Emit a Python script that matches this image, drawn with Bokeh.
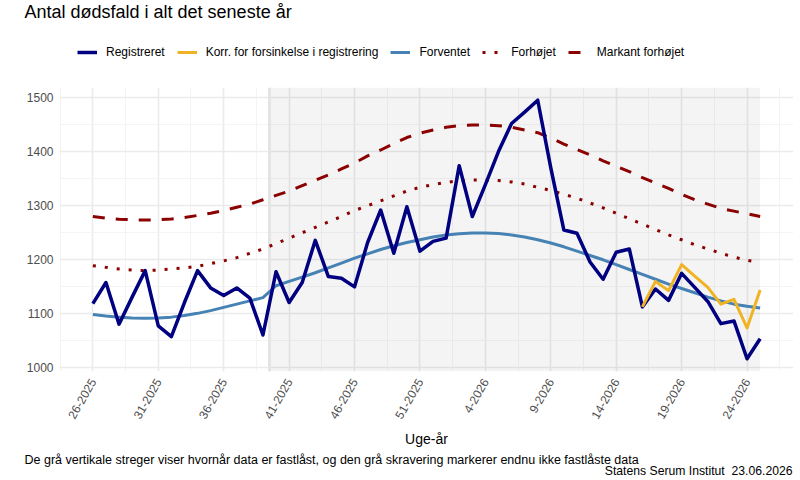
import math
from bokeh.plotting import figure
from bokeh.layouts import column
from bokeh.models import Range1d, FixedTicker, BoxAnnotation, Span, Legend, LegendItem
from bokeh.core.properties import value
from bokeh.embed import file_html
from bokeh.resources import INLINE

# ---------------- data ----------------
week_labels = [
    "26-2025", "27-2025", "28-2025", "29-2025", "30-2025", "31-2025", "32-2025", "33-2025",
    "34-2025", "35-2025", "36-2025", "37-2025", "38-2025", "39-2025", "40-2025", "41-2025",
    "42-2025", "43-2025", "44-2025", "45-2025", "46-2025", "47-2025", "48-2025", "49-2025",
    "50-2025", "51-2025", "52-2025", "1-2026", "2-2026", "3-2026", "4-2026", "5-2026",
    "6-2026", "7-2026", "8-2026", "9-2026", "10-2026", "11-2026", "12-2026", "13-2026",
    "14-2026", "15-2026", "16-2026", "17-2026", "18-2026", "19-2026", "20-2026", "21-2026",
    "22-2026", "23-2026", "24-2026", "25-2026",
]
tick_labels = ["26-2025", "31-2025", "36-2025", "41-2025", "46-2025", "51-2025",
               "4-2026", "9-2026", "14-2026", "19-2026", "24-2026"]

registered = [1119, 1158, 1081, 1131, 1180, 1078, 1058, 1121, 1180, 1148,
              1134, 1148, 1129, 1061, 1178, 1121, 1158, 1236, 1169, 1166,
              1150, 1232, 1292, 1212, 1298, 1216, 1234, 1240, 1374, 1280,
              1339, 1400, 1452, 1473, 1495, 1370, 1255, 1249, 1196, 1164,
              1214, 1220, 1113, 1146, 1125, 1175, 1149, 1123, 1082, 1087,
              1017, 1054]

corrected_weeks = ["16-2026", "17-2026", "18-2026", "19-2026", "20-2026",
                   "21-2026", "22-2026", "23-2026", "24-2026", "25-2026"]
corrected = [1113, 1160, 1143, 1191, 1170, 1149, 1118, 1127, 1074, 1144]

expected = [1099, 1096, 1094, 1092.5, 1092, 1092.5, 1094, 1097, 1101, 1106,
            1112, 1118, 1124, 1130, 1152, 1160, 1168, 1176, 1185, 1194,
            1203, 1211, 1219, 1226, 1232, 1237, 1242, 1246, 1248, 1249.5,
            1249.5, 1248.5, 1246, 1242, 1237, 1231, 1224, 1216, 1208, 1200,
            1191, 1182, 1173, 1164, 1155, 1147, 1139, 1131, 1124, 1118,
            1114, 1111]

elevated = [1189, 1186, 1183, 1181, 1180, 1181, 1183, 1185, 1188, 1193,
            1198, 1204, 1212, 1220, 1230, 1240, 1250, 1260, 1270, 1280,
            1291, 1300, 1309, 1318, 1327, 1334, 1339, 1343, 1346, 1347.5,
            1347.5, 1346.5, 1344, 1340, 1334, 1328, 1321, 1314, 1305, 1296,
            1286, 1276, 1266, 1256, 1246, 1237, 1228, 1220, 1212, 1205,
            1199, 1195]

markedly = [1280, 1277, 1275, 1274, 1273.5, 1274, 1275.5, 1278, 1282, 1286,
            1291, 1297, 1303, 1311, 1319, 1327, 1337, 1347, 1357, 1368,
            1379, 1392, 1403, 1415, 1426, 1434, 1440, 1445, 1448, 1449,
            1449, 1448, 1445, 1440, 1435, 1425, 1414, 1404, 1394, 1383,
            1373, 1363, 1352, 1342, 1332, 1321, 1311, 1303, 1295, 1290,
            1285, 1280]

series_names = ["Registreret", "Korr. for forsinkelse i registrering", "Forventet",
                "Forhøjet", "Markant forhøjet"]
title_text = "Antal dødsfald i alt det seneste år"
x_title = "Uge-år"
caption_text = ("De grå vertikale streger viser hvornår data er fastlåst, "
                "og den grå skravering markerer endnu ikke fastlåste data")
source_text = "Statens Serum Institut \u00a023.06.2026"

last_locked_week = "39-2025"
first_unlocked_week = "40-2025"
y_ticks = [1000, 1100, 1200, 1300, 1400, 1500]

# ---------------- styles ----------------
FONT = "Liberation Sans"
styles = [
    dict(line_color="#000080", line_width=3.5, line_join="round"),
    dict(line_color="#F0B323", line_width=3, line_join="round"),
    dict(line_color="#4682B4", line_width=3, line_join="round"),
    dict(line_color="#8B0000", line_width=3, line_dash="3 9"),
    dict(line_color="#8B0000", line_width=3, line_dash="12 11"),
]


def blank(h):
    f = figure(width=800, height=h, output_backend="svg", toolbar_location=None,
               x_range=Range1d(0, 800), y_range=Range1d(h, 0),
               x_axis_type=None, y_axis_type=None,
               min_border_left=0, min_border_right=0, min_border_top=0, min_border_bottom=0)
    f.outline_line_color = None
    f.xgrid.visible = False
    f.ygrid.visible = False
    f.frame_align = False
    return f


# ---------------- header: title + legend ----------------
top = blank(87)
top.text(x=[24], y=[11], text=[title_text], text_font=value(FONT), text_font_size="18px",
         text_color="#000000", text_baseline="middle", text_align="left")
# legend samples only (kept outside the visible area)
dummy = [top.line([-60, -50], [-60, -60], **st) for st in styles]
legend = Legend(items=[LegendItem(label=n, renderers=[r]) for n, r in zip(series_names, dummy)],
                orientation="horizontal", location=(77, 25.5), padding=0, margin=0,
                spacing=12, label_standoff=9, glyph_width=20, glyph_height=14, label_height=20,
                label_text_font=FONT, label_text_font_size="12px", label_text_color="#000000",
                border_line_color=None, background_fill_alpha=0)
top.add_layout(legend)

# ---------------- main chart ----------------
x = list(range(len(week_labels)))
xc = [week_labels.index(w) for w in corrected_weeks]
tick_pos = [week_labels.index(t) for t in tick_labels]
lock_x = (week_labels.index(last_locked_week) + week_labels.index(first_unlocked_week)) / 2

p = figure(width=800, height=364, output_backend="svg", toolbar_location=None,
           x_range=Range1d(-2.55, 53.55), y_range=Range1d(993.5, 1518.5),
           min_border_left=59, min_border_right=7, min_border_top=0, min_border_bottom=80)
p.frame_align = False
p.outline_line_color = None
p.background_fill_color = "white"
p.border_fill_color = "white"

p.xaxis.ticker = FixedTicker(ticks=tick_pos,
                             minor_ticks=[t + 2.5 for t in [-5] + tick_pos])
p.yaxis.ticker = FixedTicker(ticks=y_ticks, minor_ticks=[v + 50 for v in [950] + y_ticks])
p.xaxis.major_label_overrides = {pos: lab for pos, lab in zip(tick_pos, tick_labels)}
for g in (p.xgrid, p.ygrid):
    g.grid_line_color = "#EBEBEB"
    g.grid_line_width = 1.6
    g.minor_grid_line_color = "#F3F3F3"
    g.minor_grid_line_width = 0.9

shade = BoxAnnotation(left=lock_x, right=x[-1], fill_color="black", fill_alpha=0.045,
                      line_color=None, level="underlay")
p.add_layout(shade)
p.add_layout(Span(location=lock_x, dimension="height", line_color="#E4E4E4",
                  line_width=3, level="underlay"))

for ax in (p.xaxis, p.yaxis):
    ax.axis_line_color = None
    ax.major_tick_line_color = None
    ax.minor_tick_line_color = None
    ax.major_tick_out = 0
    ax.major_tick_in = 0
    ax.minor_tick_out = 0
    ax.major_label_text_font = FONT
    ax.major_label_text_font_size = "12px"
    ax.major_label_text_color = "#4D4D4D"
p.yaxis.major_label_standoff = 6
p.xaxis.major_label_standoff = 8
p.xaxis.major_label_orientation = math.pi / 3
p.xaxis.axis_label = x_title
p.xaxis.axis_label_text_font = FONT
p.xaxis.axis_label_text_font_size = "14px"
p.xaxis.axis_label_text_font_style = "normal"
p.xaxis.axis_label_text_color = "#000000"
p.xaxis.axis_label_standoff = 6

p.line(x, expected, **styles[2])
p.line(x, elevated, **styles[3])
p.line(x, markedly, **styles[4])
p.line(x, registered, **styles[0])
p.line(xc, corrected, **styles[1])

# ---------------- footer ----------------
bot = blank(29)
bot.text(x=[24], y=[8], text=[caption_text], text_font=value(FONT), text_font_size="12.5px",
         text_color="#000000", text_baseline="middle", text_align="left")
bot.text(x=[792], y=[19], text=[source_text], text_font=value(FONT), text_font_size="12.2px",
         text_color="#000000", text_baseline="middle", text_align="right")

layout = column(top, p, bot, spacing=0)
open("out.html", "w").write(file_html(layout, INLINE))
